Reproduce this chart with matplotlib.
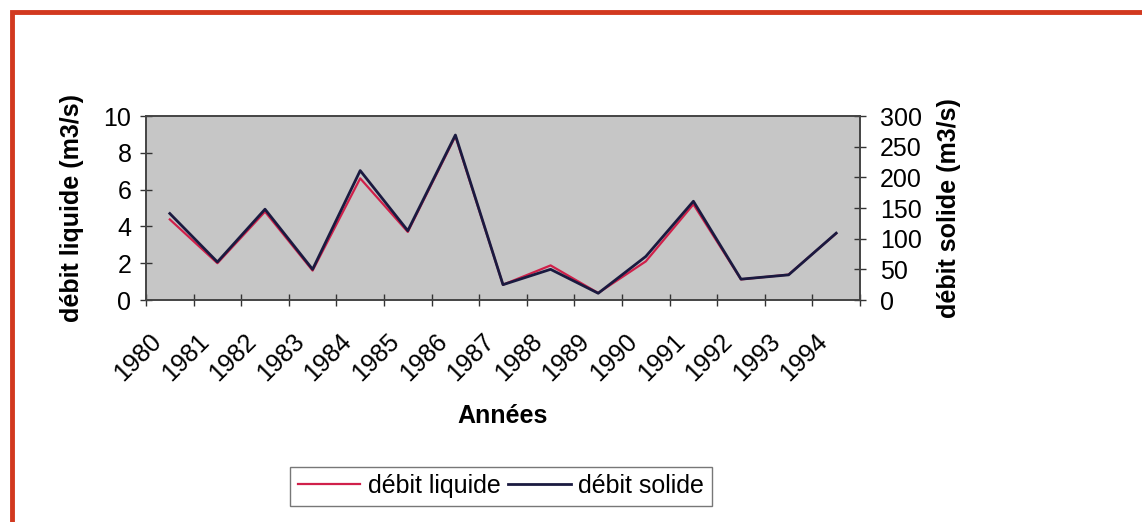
import numpy as np
import matplotlib
matplotlib.use("Agg")
import matplotlib.pyplot as plt
from matplotlib.patches import Rectangle

plt.rcParams['font.family'] = ['Liberation Sans', 'DejaVu Sans']

years = ['1980', '1981', '1982', '1983', '1984', '1985', '1986', '1987',
         '1988', '1989', '1990', '1991', '1992', '1993', '1994']
debit_liquide = [4.38, 2.0, 4.8, 1.6, 6.61, 3.7, 8.9, 0.83,
                 1.88, 0.38, 2.1, 5.2, 1.12, 1.38, 3.62]
debit_solide = [141, 62, 148, 50, 211, 113, 269, 25,
                50, 11, 71, 161, 34, 41, 109]

fig = plt.figure(figsize=(11.42, 5.22), dpi=100)

# red frame, runs off the right and bottom edges like the scan
fig.patches.append(Rectangle((12 / 1142, -0.1), 1.2, 1.1 - 12 / 522,
                             transform=fig.transFigure, fill=False,
                             edgecolor='#d2391f', linewidth=3.5))

ax = fig.add_axes([146 / 1142, 1 - 300 / 522, 714 / 1142, 184 / 522])
ax.set_facecolor('#c6c6c6')
ax2 = ax.twinx()

x = np.arange(len(years))
l1, = ax.plot(x, debit_liquide, color='#d0204a', lw=1.6, zorder=2)
l2, = ax2.plot(x, debit_solide, color='#1a1a40', lw=2.0, zorder=3)

ax.set_xlim(-0.5, len(years) - 0.5)
ax.set_ylim(0, 10)
ax2.set_ylim(0, 300)
ax.set_yticks(range(0, 11, 2))
ax2.set_yticks(range(0, 301, 50))

# category ticks between years, year labels slanted under each category
ax.set_xticks(np.arange(-0.5, len(years), 1))
ax.set_xticklabels([])
for i, yr in enumerate(years):
    ax.annotate(yr, xy=(i, 0), xycoords=('data', 'axes fraction'),
                xytext=(-15, -21), textcoords='offset points',
                rotation=45, ha='right', va='top', rotation_mode='anchor',
                fontsize=18)

ax.tick_params(axis='x', length=9, direction='inout', width=1, color='#333333')
ax.tick_params(axis='y', length=9, direction='inout', labelsize=18,
               width=1, color='#333333', pad=6)
ax2.tick_params(axis='y', length=9, direction='inout', labelsize=18,
                width=1, color='#333333', pad=10)

for a in (ax, ax2):
    for s in a.spines.values():
        s.set_color('#444444')
        s.set_linewidth(1.2)

ax.set_ylabel('débit liquide (m3/s)', fontsize=18, fontweight='bold', labelpad=14)
ax2.set_ylabel('débit solide (m3/s)', fontsize=18, fontweight='bold', labelpad=11)
fig.text(503 / 1142, 1 - 416 / 522, 'Années', fontsize=18, fontweight='bold',
         ha='center', va='center')

leg = fig.legend([l1, l2], ['débit liquide', 'débit solide'], ncol=2,
                 loc='center', bbox_to_anchor=(501 / 1142, 1 - 486 / 522),
                 fontsize=18, frameon=True, fancybox=False, handlelength=2.5,
                 handletextpad=0.3, columnspacing=0.3, borderpad=0.3,
                 edgecolor='#555555')
leg.get_frame().set_linewidth(1.0)

fig.savefig('out.png', dpi=100)
